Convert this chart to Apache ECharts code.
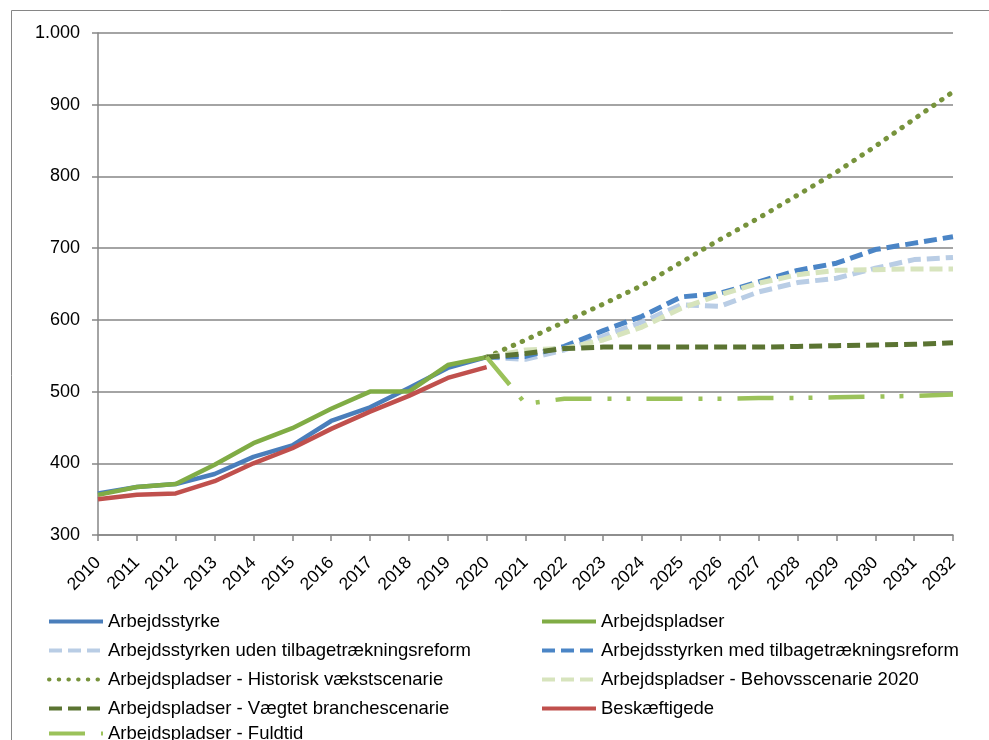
<!DOCTYPE html>
<html>
<head>
<meta charset="utf-8">
<script src="https://cdn.jsdelivr.net/npm/echarts@6/dist/echarts.min.js"></script>
<style>
html,body{margin:0;padding:0;background:#fff;}
#c{width:989px;height:740px;}
</style>
</head>
<body>
<div id="c"></div>
<script>
var years = ['2010','2011','2012','2013','2014','2015','2016','2017','2018','2019','2020','2021','2022','2023','2024','2025','2026','2027','2028','2029','2030','2031','2032'];
var yTicks = [300, 1000, 100];
var arbejdsstyrke = [358,367,371,385,409,425,459,478,505,533,548,null,null,null,null,null,null,null,null,null,null,null,null];
var arbejdspladser = [356,367,371,398,428,449,476,500,500,537,548,null,null,null,null,null,null,null,null,null,null,null,null];
var udenReform = [null,null,null,null,null,null,null,null,null,null,548,545,558,577,597,621,619,639,652,658,672,684,687];
var medReform = [null,null,null,null,null,null,null,null,null,null,548,549,563,585,605,632,637,653,669,679,698,707,716];
var historisk = [null,null,null,null,null,null,null,null,null,null,548,572,597,622,648,680,712,742,774,806,842,880,918];
var behov2020 = [null,null,null,null,null,null,null,null,null,null,548,558,560,572,590,616,635,651,663,669,670,671,671];
var vaegtet = [null,null,null,null,null,null,null,null,null,null,548,553,560,562,562,562,562,562,563,564,565,566,568];
var beskaeftigede = [350,356,358,375,400,421,448,472,494,519,534,null,null,null,null,null,null,null,null,null,null,null,null];
var fuldtid = [null,null,null,null,null,null,null,null,null,null,548,483,490,490,490,490,490,491,491,492,493,494,496];

var names = {
  a: 'Arbejdsstyrke',
  b: 'Arbejdspladser',
  c: 'Arbejdsstyrken uden tilbagetrækningsreform',
  d: 'Arbejdsstyrken med tilbagetrækningsreform',
  e: 'Arbejdspladser - Historisk vækstscenarie',
  f: 'Arbejdspladser - Behovsscenarie 2020',
  g: 'Arbejdspladser - Vægtet branchescenarie',
  h: 'Beskæftigede',
  i: 'Arbejdspladser - Fuldtid'
};

function mk(name, data, color, type, width, cap) {
  return {
    name: name, type: 'line', data: data, symbol: 'none', showSymbol: false,
    connectNulls: false, animation: false,
    itemStyle: {color: color},
    lineStyle: {color: color, width: width, type: type, cap: cap || 'butt', join: 'round'}
  };
}

var font = 'Liberation Sans, Arial, sans-serif';
var chart = echarts.init(document.getElementById('c'), null, {renderer: 'canvas'});
var legendBase = {
  orient: 'vertical', itemWidth: 54, itemHeight: 18, itemGap: 10, padding: 0,
  textStyle: {fontFamily: font, fontSize: 18.5, color: '#000'},
  itemStyle: {opacity: 0},
  lineStyle: {width: 4},
  selectedMode: false
};
chart.setOption({
  animation: false,
  backgroundColor: '#fff',
  graphic: [{
    type: 'rect', silent: true,
    shape: {x: 11.5, y: 10.5, width: 1200, height: 900},
    style: {fill: 'none', stroke: '#868686', lineWidth: 1}
  }],
  grid: {left: 98, right: 36, top: 33, bottom: 205, containLabel: false},
  legend: [
    Object.assign({}, legendBase, {left: 47, top: 612, data: [names.a, names.c, names.e, names.g]}),
    Object.assign({}, legendBase, {left: 47, top: 724, data: [names.i]}),
    Object.assign({}, legendBase, {left: 540, top: 612, data: [names.b, names.d, names.f, names.h]})
  ],
  xAxis: {
    type: 'category', data: years, boundaryGap: false,
    axisLine: {lineStyle: {color: '#868686', width: 1.5}},
    axisTick: {show: true, inside: false, length: 6, interval: 0, lineStyle: {color: '#868686', width: 1.5}},
    axisLabel: {interval: 0, rotate: 45, margin: 25, fontFamily: font, fontSize: 17.5, color: '#000'},
    splitLine: {show: false}
  },
  yAxis: {
    type: 'value', min: yTicks[0], max: yTicks[1], interval: yTicks[2],
    axisLine: {show: true, lineStyle: {color: '#868686', width: 1.5}},
    axisTick: {show: true, length: 6, lineStyle: {color: '#868686', width: 1.5}},
    axisLabel: {
      margin: 18, fontFamily: font, fontSize: 18, color: '#000',
      formatter: function (v) { return v >= 1000 ? Math.floor(v/1000) + '.' + String(v % 1000).padStart(3, '0') : String(v); }
    },
    splitLine: {show: true, lineStyle: {color: '#868686', width: 1.5}}
  },
  series: [
    mk(names.a, arbejdsstyrke, '#4A7EBB', 'solid', 4.5),
    mk(names.b, arbejdspladser, '#80AC45', 'solid', 4.5),
    mk(names.c, udenReform, '#B9CDE5', [13, 6], 5),
    mk(names.d, medReform, '#4B85C6', [13, 6], 5),
    mk(names.e, historisk, '#77933C', [0.5, 9.2], 5, 'round'),
    mk(names.f, behov2020, '#D7E4BD', [13, 6], 5),
    mk(names.g, vaegtet, '#5B7432', [13, 6], 5),
    mk(names.h, beskaeftigede, '#C0504D', 'solid', 4.5),
    mk(names.i, fuldtid, '#9BC25A', [36, 16, 4, 15, 4, 16], 4.5)
  ]
});
</script>
</body>
</html>
